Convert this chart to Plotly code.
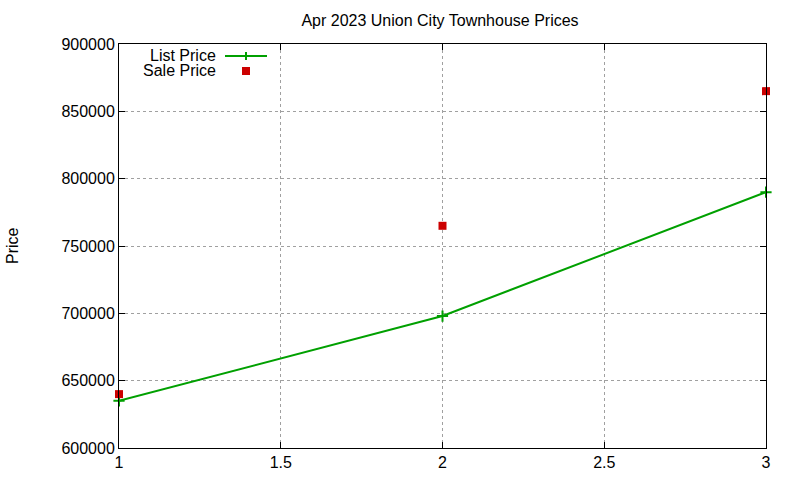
import plotly.graph_objects as go

x_vals = [1, 2, 3]
list_price = [635000, 698000, 790000]
sale_price = [640000, 765000, 865000]
x_ticks = [1, 1.5, 2, 2.5, 3]
y_ticks = [600000, 650000, 700000, 750000, 800000, 850000, 900000]

GREEN = "#00a000"
RED = "#cc0000"
FONT = "Liberation Sans, Arial, sans-serif"
FS = 16

fig = go.Figure()
fig.add_trace(go.Scatter(x=x_vals, y=list_price, mode="lines+markers", name="List Price",
                         line=dict(color=GREEN, width=2),
                         marker=dict(symbol="cross-thin", size=8, line=dict(color=GREEN, width=2)),
                         cliponaxis=False, showlegend=False))
fig.add_trace(go.Scatter(x=x_vals, y=sale_price, mode="markers", name="Sale Price",
                         marker=dict(symbol="square", size=8, color=RED),
                         cliponaxis=False, showlegend=False))

axis_common = dict(showline=True, linecolor="black", linewidth=1, mirror="ticks",
                   ticks="inside", ticklen=6, tickcolor="black", automargin=False,
                   showgrid=True, gridcolor="#a0a0a0", griddash="dot", gridwidth=1,
                   zeroline=False, tickfont=dict(family=FONT, size=FS, color="black"))

fig.update_xaxes(range=[1, 3], tickvals=x_ticks, ticktext=[str(v) for v in x_ticks], **axis_common)
fig.update_yaxes(range=[600000, 900000], tickvals=y_ticks, ticktext=[str(v) for v in y_ticks],
                 **axis_common)

TOP, BOT, LEFT, RIGHT = 44, 32, 119, 34
fig.update_layout(
    width=800, height=480,
    margin=dict(l=LEFT, r=RIGHT, t=TOP, b=BOT),
    paper_bgcolor="white", plot_bgcolor="white",
    font=dict(family=FONT, size=FS, color="black"),
    title=dict(text="Apr 2023 Union City Townhouse Prices", x=440 / 800, xanchor="center",
               y=1 - 20 / 480, yanchor="middle", font=dict(family=FONT, size=FS)),
    showlegend=False,
)

h = 404.0
w = 647.0
def px(xp):
    return (xp - 119) / w
def py(yp):
    return (448 - yp) / h

# y-axis title
fig.add_annotation(text="Price", xref="paper", yref="paper", x=px(12), y=0.5,
                   xanchor="center", yanchor="middle", textangle=-90, showarrow=False,
                   font=dict(family=FONT, size=FS))

# legend (gnuplot style: label right-aligned, sample to the right)
fig.add_annotation(text="List Price", xref="paper", yref="paper", x=px(218), y=py(55),
                   xanchor="right", yanchor="middle", showarrow=False, height=15,
                   font=dict(family=FONT, size=FS))
fig.add_annotation(text="Sale Price", xref="paper", yref="paper", x=px(218), y=py(71),
                   xanchor="right", yanchor="middle", showarrow=False, height=15,
                   font=dict(family=FONT, size=FS))
fig.add_shape(type="line", xref="paper", yref="paper", x0=px(225), x1=px(267), y0=py(56), y1=py(56),
              line=dict(color=GREEN, width=2))
fig.add_shape(type="line", xref="paper", yref="paper", x0=px(246), x1=px(246), y0=py(52), y1=py(60),
              line=dict(color=GREEN, width=2))
fig.add_shape(type="rect", xref="paper", yref="paper", x0=px(242), x1=px(250), y0=py(67), y1=py(75),
              line=dict(width=0), fillcolor=RED)

fig.write_html("out.html",
               config={"displayModeBar": False},
               post_script="document.body.style.margin='0px';document.body.style.padding='0px';")
